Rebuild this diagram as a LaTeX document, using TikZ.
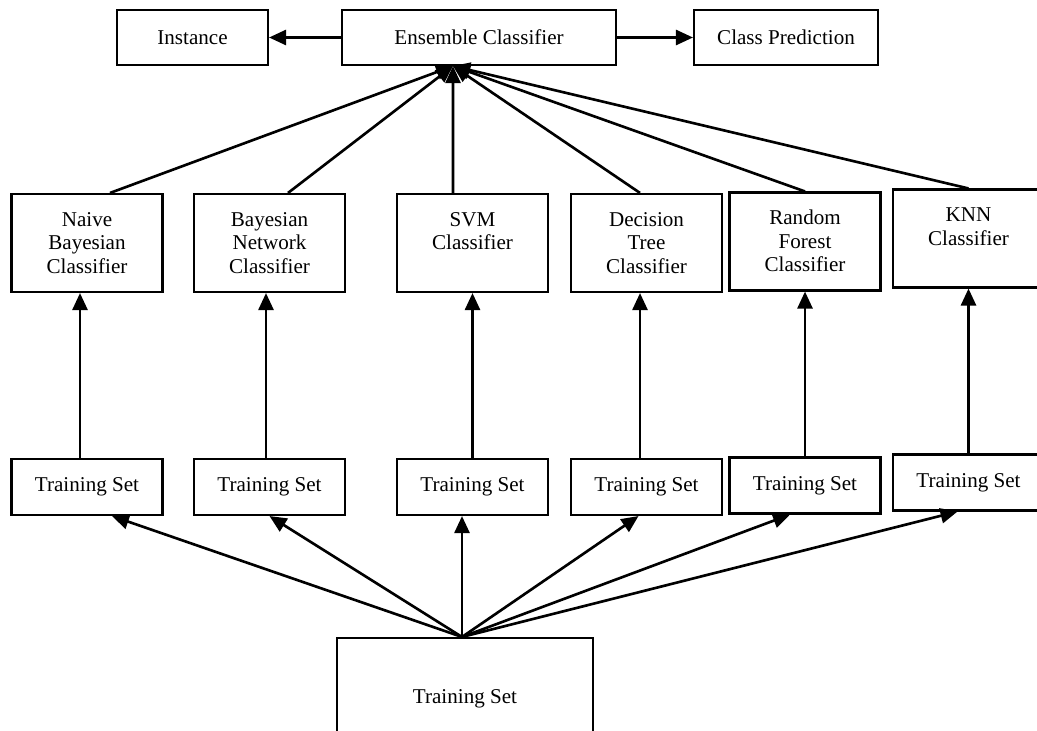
\documentclass[tikz,border=0pt]{standalone}
\usepackage{fontspec}
\setmainfont{Liberation Serif}
\usetikzlibrary{arrows.meta,calc,positioning}

\tikzset{
  box/.style={draw, line width=1.2pt, inner sep=0pt, align=center},
  clsbox/.style={box, text width=3.02cm, text height=0.64cm, text depth=1.32cm},
  tsbox/.style={box, minimum width=3.02cm, minimum height=1.12cm},
  arr/.style={line width=1.5pt, -{Triangle[length=0.34cm,width=0.3cm]}}
}

\begin{document}
\begin{tikzpicture}[x=0.02cm,y=-0.02cm]
  \fontsize{12}{13.5}\selectfont
  \useasboundingbox (0,0) rectangle (1037,730);
  \clip (0,0) rectangle (1037,730);
  % top row
  \node[box, minimum width=3.02cm, minimum height=1.1cm] (inst) at (192.5,37.5) {Instance};
  \node[box, minimum width=5.48cm, minimum height=1.1cm] (ens) at (479,37.5) {Ensemble Classifier};
  \node[box, minimum width=3.68cm, minimum height=1.1cm] (pred) at (786,37.5) {Class Prediction};
  \draw[arr] (ens.west) -- (inst.east);
  \draw[arr] (ens.east) -- (pred.west);
  % base classifiers
  \node[clsbox] (nb) at (87,243) {Naive\\Bayesian\\Classifier};
  \node[clsbox] (bn) at (269.5,243) {Bayesian\\Network\\Classifier};
  \node[clsbox] (svm) at (472.5,243) {SVM\\Classifier};
  \node[clsbox] (dt) at (646.5,243) {Decision\\Tree\\Classifier};
  \node[clsbox] (rf) at (805,241.5) {Random\\Forest\\Classifier};
  \node[clsbox] (knn) at (968.5,238.5) {KNN\\Classifier};
  \coordinate (top) at ([xshift=-0.52cm]ens.south);
  \draw[arr] ([xshift=0.46cm]nb.north) -- (top);
  \draw[arr] ([xshift=0.37cm]bn.north) -- (top);
  \draw[arr] ([xshift=-0.39cm]svm.north) -- (top);
  \draw[arr] ([xshift=-0.13cm]dt.north) -- (top);
  \draw[arr] (rf.north) -- (top);
  \draw[arr] (knn.north) -- (top);
  % training sets
  \node[tsbox] (ts1) at (87,487) {Training Set};
  \node[tsbox] (ts2) at (269.5,487) {Training Set};
  \node[tsbox] (ts3) at (472.5,487) {Training Set};
  \node[tsbox] (ts4) at (646.5,487) {Training Set};
  \node[tsbox] (ts5) at (805,485.5) {Training Set};
  \node[tsbox] (ts6) at (968.5,482.5) {Training Set};
  \foreach \t/\c/\s in {ts1/nb/-0.14cm, ts2/bn/-0.07cm, ts3/svm/0cm, ts4/dt/-0.13cm, ts5/rf/0cm, ts6/knn/0cm}
    \draw[arr] ([xshift=\s]\t.north) -- ([xshift=\s]\c.south);
  % full training set
  \node[box, minimum width=5.12cm, minimum height=2.44cm] (all) at (465,699) {Training Set};
  \coordinate (bot) at ([xshift=-0.06cm]all.north);
  \draw[arr] (bot) -- ([xshift=0.5cm]ts1.south);
  \draw[arr] (bot) -- (ts2.south);
  \draw[arr] (bot) -- (bot |- ts3.south);
  \draw[arr] (bot) -- ([xshift=-0.16cm]ts4.south);
  \draw[arr] (bot) -- ([xshift=-0.3cm]ts5.south);
  \draw[arr] (bot) -- ([xshift=-0.22cm]ts6.south);
\end{tikzpicture}
\end{document}
